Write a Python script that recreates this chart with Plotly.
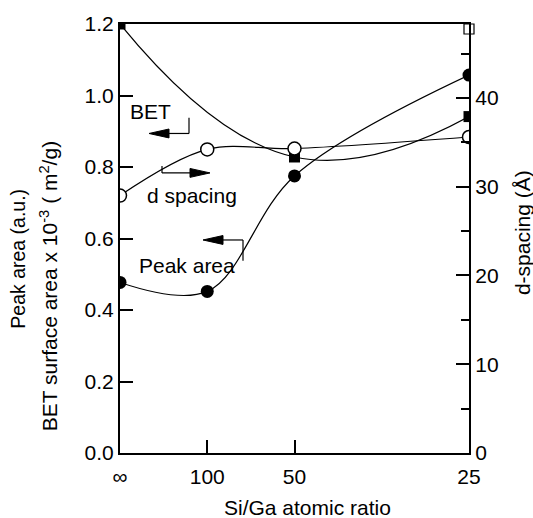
import plotly.graph_objects as go

# ---- data ----
ratio_labels = ["∞", "100", "50", "25"]
ga_si = [0.0, 0.01, 0.02, 0.04]          # 1 / (Si/Ga)

peak_x = [0.0, 0.01, 0.02, 0.04]
peak_area = [0.477, 0.452, 0.775, 1.057]

bet_x = [0.0, 0.02, 0.04]
bet_area = [1.20, 0.828, 0.941]

open_sq_x = [0.04]
open_sq_y = [1.186]

d_x = [0.0, 0.01, 0.02, 0.04]
d_spacing = [29.0, 34.2, 34.3, 35.6]

left_ticks = [0.0, 0.2, 0.4, 0.6, 0.8, 1.0, 1.2]
right_ticks = [0, 10, 20, 30, 40]

FONT = "Liberation Sans, Arial, Helvetica, sans-serif"
FS = 21

fig = go.Figure()

fig.add_trace(go.Scatter(
    x=bet_x, y=bet_area, mode="lines+markers",
    line=dict(color="black", width=1.2, shape="spline", smoothing=1.3),
    marker=dict(symbol="square", size=11, color="black"),
    showlegend=False))

fig.add_trace(go.Scatter(
    x=peak_x, y=peak_area, mode="lines+markers",
    line=dict(color="black", width=1.2, shape="spline", smoothing=1.0),
    marker=dict(symbol="circle", size=13, color="black"),
    showlegend=False))

fig.add_trace(go.Scatter(
    x=d_x, y=d_spacing, mode="lines+markers", yaxis="y2",
    line=dict(color="black", width=1.2, shape="spline", smoothing=1.0),
    marker=dict(symbol="circle", size=13, color="white",
                line=dict(color="black", width=1.5)),
    showlegend=False))

fig.add_trace(go.Scatter(
    x=open_sq_x, y=open_sq_y, mode="markers",
    marker=dict(symbol="square", size=10, color="white",
                line=dict(color="black", width=1.2)),
    showlegend=False, cliponaxis=False))

# ---- axis geometry ----
L, R, T, B = 120, 64, 18, 65
W, H = 533, 518
pw, ph = W - L - R, H - T - B

def px2x(px):
    return (px - L) / pw * 0.04

def py2y(py):
    return (H - B - py) / ph * 1.2

def px2paper(px):
    return (px - L) / pw

def py2paper(py):
    return (H - B - py) / ph

annotations = []
shapes = []

# text labels in plot
for txt, cx, cy in [("BET", 150, 107), ("d spacing", 192, 192), ("Peak area", 187, 263)]:
    annotations.append(dict(x=px2x(cx), y=py2y(cy), xref="x", yref="y", text=txt,
                            xanchor="center", yanchor="middle",
                            showarrow=False, font=dict(family=FONT, size=FS, color="black")))

# bracket arrows: (vertical x, vertical y top, vertical y bottom, tip x, horizontal y)
for vx, vy1, vy2, tipx, hy in [(189, 113, 129, 149, 129),
                               (162, 162, 169, 210, 169),
                               (243, 237, 258, 203, 237)]:
    shapes.append(dict(type="line", xref="x", yref="y",
                       x0=px2x(vx), x1=px2x(vx), y0=py2y(vy1), y1=py2y(vy2),
                       line=dict(color="black", width=1.2)))
    sgn = 1 if vx > tipx else -1
    shapes.append(dict(type="line", xref="x", yref="y",
                       x0=px2x(vx), x1=px2x(tipx + sgn * 10), y0=py2y(hy), y1=py2y(hy),
                       line=dict(color="black", width=1.2)))
    bx = tipx + sgn * 20
    path = (f"M {px2x(tipx)},{py2y(hy)} L {px2x(bx)},{py2y(hy - 4.5)} "
            f"L {px2x(bx)},{py2y(hy + 4.5)} Z")
    shapes.append(dict(type="path", xref="x", yref="y", path=path,
                       fillcolor="black", line=dict(color="black", width=1)))

# axis titles
annotations.append(dict(x=px2paper(18), y=py2paper(256), xref="paper", yref="paper",
                        xanchor="center", yanchor="middle",
                        text="Peak area (a.u.)", textangle=-90, showarrow=False,
                        font=dict(family=FONT, size=19.5, color="black")))
annotations.append(dict(x=px2paper(49), y=py2paper(284), xref="paper", yref="paper",
                        xanchor="center", yanchor="middle",
                        text="BET surface area x 10<sup>-3</sup> ( m<sup>2</sup>/g)",
                        textangle=-90, showarrow=False,
                        font=dict(family=FONT, size=FS, color="black")))
annotations.append(dict(x=px2paper(522), y=py2paper(230), xref="paper", yref="paper",
                        xanchor="center", yanchor="middle",
                        text="d-spacing (Å)", textangle=-90, showarrow=False,
                        font=dict(family=FONT, size=FS, color="black")))
annotations.append(dict(x=px2paper(307), y=py2paper(508), xref="paper", yref="paper",
                        xanchor="center", yanchor="middle",
                        text="Si/Ga atomic ratio", showarrow=False,
                        font=dict(family=FONT, size=FS, color="black")))

fig.update_layout(
    width=W, height=H,
    margin=dict(l=L, r=R, t=T, b=B),
    paper_bgcolor="white", plot_bgcolor="white",
    font=dict(family=FONT, size=FS, color="black"),
    xaxis=dict(range=[0, 0.04], tickvals=ga_si, ticktext=ratio_labels,
               ticks="inside", ticklen=13, tickwidth=1.5, tickcolor="black",
               ticklabelstandoff=4,
               showline=True, linewidth=2.2, linecolor="black", mirror=True,
               showgrid=False, zeroline=False, fixedrange=True),
    yaxis=dict(range=[0, 1.2], tickvals=left_ticks,
               ticktext=[f"{v:.1f}" for v in left_ticks],
               ticks="inside", ticklen=13, tickwidth=1.5, tickcolor="black",
               showline=True, linewidth=2.2, linecolor="black",
               showgrid=False, zeroline=False),
    yaxis2=dict(range=[0, 48.33], overlaying="y", side="right",
                tickvals=right_ticks, ticks="inside", ticklen=13, tickwidth=1.5,
                tickcolor="black", showline=True, linewidth=2.2, linecolor="black",
                showgrid=False, zeroline=False,
                minor=dict(dtick=5, tick0=0, ticks="inside", ticklen=8,
                           tickwidth=1.5, tickcolor="black")),
    annotations=annotations, shapes=shapes,
)

fig.write_html("out.html")
